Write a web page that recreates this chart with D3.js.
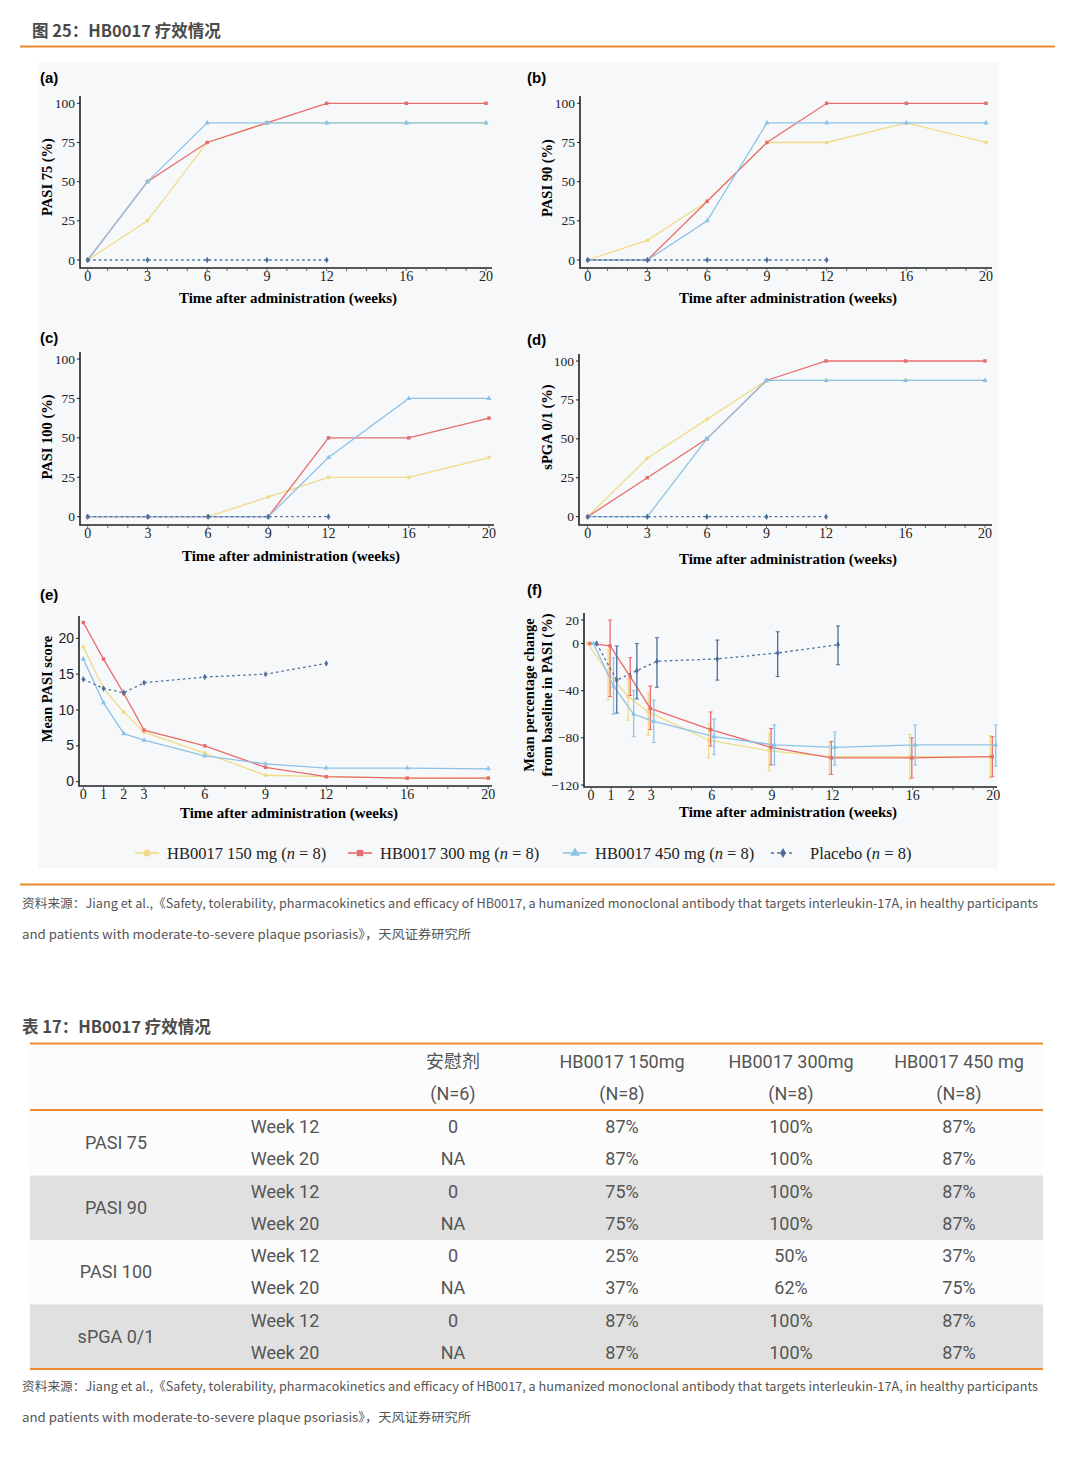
<!DOCTYPE html>
<html>
<head>
<meta charset="utf-8">
<script src="https://d3js.org/d3.v7.min.js"></script>
<style>
  body { margin: 0; background: #fff; }
  svg text { font-family: "Liberation Serif", serif; }
</style>
</head>
<body>
<div id="chart"></div>
<script>
// ---- data ----
var weeks = [0, 3, 6, 9, 12, 16, 20];
var weeksPbo = [0, 3, 6, 9, 12];
var weeksE = [0, 1, 2, 3, 6, 9, 12, 16, 20];
var weeksPboE = [0, 1, 2, 3, 6, 9, 12];

// (a) PASI 75 (%)
var pasi75_150 = [0, 25, 75, 87.5, 87.5, 87.5, 87.5];
var pasi75_300 = [0, 50, 75, 87.5, 100, 100, 100];
var pasi75_450 = [0, 50, 87.5, 87.5, 87.5, 87.5, 87.5];
var pasi75_pbo = [0, 0, 0, 0, 0];
// (b) PASI 90 (%)
var pasi90_150 = [0, 12.5, 37.5, 75, 75, 87.5, 75];
var pasi90_300 = [0, 0, 37.5, 75, 100, 100, 100];
var pasi90_450 = [0, 0, 25, 87.5, 87.5, 87.5, 87.5];
var pasi90_pbo = [0, 0, 0, 0, 0];
// (c) PASI 100 (%)
var pasi100_150 = [0, 0, 0, 12.5, 25, 25, 37.5];
var pasi100_300 = [0, 0, 0, 0, 50, 50, 62.5];
var pasi100_450 = [0, 0, 0, 0, 37.5, 75, 75];
var pasi100_pbo = [0, 0, 0, 0, 0];
// (d) sPGA 0/1 (%)
var spga_150 = [0, 37.5, 62.5, 87.5, 87.5, 87.5, 87.5];
var spga_300 = [0, 25, 50, 87.5, 100, 100, 100];
var spga_450 = [0, 0, 50, 87.5, 87.5, 87.5, 87.5];
var spga_pbo = [0, 0, 0, 0, 0];
// (e) mean PASI score
var score_150 = [18.8, 13.0, 9.7, 6.9, 4.0, 0.9, 0.7, 0.5, 0.5];
var score_300 = [22.2, 17.1, 12.3, 7.2, 5.0, 2.0, 0.7, 0.5, 0.5];
var score_450 = [17.1, 11.0, 6.7, 5.8, 3.6, 2.5, 1.9, 1.9, 1.8];
var score_pbo = [14.3, 13.0, 12.4, 13.8, 14.6, 15.0, 16.5];
// (f) mean % change from baseline, with error bar ends
var chg_150 = [0, -25, -45, -58, -82, -91, -96, -96, -96];
var chg_150_hi = [0, -5, -30, -42, -68, -76, -84, -77, -78];
var chg_150_lo = [0, -48, -65, -78, -97, -108, -111, -115, -114];
var chg_300 = [0, -2, -28, -55, -73, -88, -97, -97, -96];
var chg_300_hi = [0, 20, -12, -36, -58, -72, -83, -80, -79];
var chg_300_lo = [0, -45, -44, -73, -87, -103, -111, -114, -113];
var chg_450 = [0, -36, -60, -66, -79, -86, -88, -86, -86];
var chg_450_hi = [0, -12, -40, -48, -64, -69, -75, -69, -69];
var chg_450_lo = [0, -60, -79, -84, -94, -103, -103, -103, -104];
var chg_pbo = [0, -31, -23, -15, -13, -8, -1];
var chg_pbo_hi = [0, -2, 0, 5, 3, 10, 15];
var chg_pbo_lo = [0, -59, -47, -37, -31, -28, -18];

var xTicksAD = [0, 3, 6, 9, 12, 16, 20];
var xTicksEF = [0, 1, 2, 3, 6, 9, 12, 16, 20];
var yTicksPct = [0, 25, 50, 75, 100];
var yTicksScore = [0, 5, 10, 15, 20];
var yTicksChg = [20, 0, -40, -80, -120];

var groupNames = ["HB0017 150 mg", "HB0017 300 mg", "HB0017 450 mg", "Placebo"];
var colors = ["#f0dc86", "#e66d6c", "#8dc3e8", "#4c6d9c"];
var symbols = [d3.symbolCircle, d3.symbolSquare, d3.symbolTriangle, d3.symbolDiamond];

var tableCols = ["安慰剂", "HB0017 150mg", "HB0017 300mg", "HB0017 450 mg"];
var tableN = ["(N=6)", "(N=8)", "(N=8)", "(N=8)"];
var tableGroups = ["PASI 75", "PASI 90", "PASI 100", "sPGA 0/1"];
var tableWeeks = ["Week 12", "Week 20"];
var tableRows = [
  ["0", "87%", "100%", "87%"], ["NA", "87%", "100%", "87%"],
  ["0", "75%", "100%", "87%"], ["NA", "75%", "100%", "87%"],
  ["0", "25%", "50%", "37%"], ["NA", "37%", "62%", "75%"],
  ["0", "87%", "100%", "87%"], ["NA", "87%", "100%", "87%"]
];
var sourceLine1 = "资料来源：Jiang et al.,《Safety, tolerability, pharmacokinetics and efficacy of HB0017, a humanized monoclonal antibody that targets interleukin-17A, in healthy participants";
var sourceLine2 = "and patients with moderate-to-severe plaque psoriasis》，天风证券研究所";

var W = 1080, H = 1470;
var orange = "#f08a2e";
var cjk = '"Noto Sans CJK SC", "Noto Sans", sans-serif';

var svg = d3.select("#chart").append("svg").attr("width", W).attr("height", H);

// header
svg.append("text").attr("x", 32).attr("y", 37).text("图 25：HB0017 疗效情况")
  .style("font-family", cjk).style("font-size", "16.5px").style("font-weight", "bold").style("fill", "#4a4a4a");
svg.append("line").attr("x1", 20).attr("x2", 1055).attr("y1", 46.5).attr("y2", 46.5)
  .style("stroke", orange).style("stroke-width", 2);

// figure background
svg.append("rect").attr("x", 38).attr("y", 62).attr("width", 960).attr("height", 806).style("fill", "#f7f8fa");

function panel(p) {
  var g = svg.append("g");
  var x = d3.scaleLinear().domain([0, 20]).range(p.xr);
  var y = d3.scaleLinear().domain(p.yd).range(p.yr);

  // axis lines
  g.append("path")
    .attr("d", "M" + p.box[0] + "," + p.box[2] + "V" + p.box[3] + "H" + p.box[1])
    .style("fill", "none").style("stroke", "#222").style("stroke-width", 1.6);

  // minor x ticks
  g.selectAll(".mx").data(d3.range(0, 21)).enter().append("line")
    .attr("x1", function(d) { return x(d); }).attr("x2", function(d) { return x(d); })
    .attr("y1", p.box[3]).attr("y2", p.box[3] + 3)
    .style("stroke", "#444").style("stroke-width", 0.8);
  // major x ticks + labels
  g.selectAll(".xt").data(p.xt).enter().append("text")
    .attr("x", function(d) { return x(d); }).attr("y", p.box[3] + 13)
    .attr("text-anchor", "middle").style("font-size", "14px").style("fill", "#222")
    .text(function(d) { return d; });
  // y ticks + labels
  g.selectAll(".yl").data(p.yt).enter().append("line")
    .attr("x1", p.box[0] - 3).attr("x2", p.box[0])
    .attr("y1", function(d) { return y(d); }).attr("y2", function(d) { return y(d); })
    .style("stroke", "#222").style("stroke-width", 1);
  g.selectAll(".yt").data(p.yt).enter().append("text")
    .attr("x", p.box[0] - 5).attr("y", function(d) { return y(d) + 4.5; })
    .attr("text-anchor", "end").style("fill", "#222")
    .style("font-size", p.sansY ? "14px" : "13.5px")
    .style("font-family", p.sansY ? '"Liberation Sans", sans-serif' : null)
    .text(function(d) { return d < 0 ? "\u2212" + Math.abs(d) : d; });

  // titles
  g.append("text").attr("x", p.label[0]).attr("y", p.label[1] + 5).text(p.name)
    .style("font-family", '"Liberation Sans", sans-serif').style("font-weight", "bold").style("font-size", "15px");
  g.append("text").attr("x", p.xtitle[0]).attr("y", p.xtitle[1] + 5).attr("text-anchor", "middle")
    .style("font-weight", "bold").style("font-size", "15px").text("Time after administration (weeks)");
  p.ytitle.forEach(function(t) {
    g.append("text").attr("transform", "translate(" + (t[0] + 5) + "," + t[1] + ") rotate(-90)")
      .attr("text-anchor", "middle").style("font-weight", "bold").style("font-size", "14.5px").text(t[2]);
  });

  var line = d3.line().x(function(d) { return x(d[0] + (d[3] || 0)); }).y(function(d) { return y(d[1]); });

  p.series.forEach(function(s, i) {
    var dodge = p.dodge ? p.dodge[s.grp] : 0;
    var pts = s.xs.map(function(v, k) { return [v, s.ys[k], k, dodge]; });
    var c = colors[s.grp];
    // error bars
    if (s.hi) {
      pts.forEach(function(d, k) {
        if (s.hi[k] === s.lo[k]) return;
        var xx = x(d[0] + dodge);
        g.append("line").attr("x1", xx).attr("x2", xx).attr("y1", y(s.hi[k])).attr("y2", y(s.lo[k]))
          .style("stroke", c).style("stroke-width", 1.3);
        [s.hi[k], s.lo[k]].forEach(function(e) {
          g.append("line").attr("x1", xx - 2).attr("x2", xx + 2).attr("y1", y(e)).attr("y2", y(e))
            .style("stroke", c).style("stroke-width", 1);
        });
      });
    }
    g.append("path").attr("d", line(pts)).style("fill", "none").style("stroke", c)
      .style("stroke-width", 1.3).style("stroke-dasharray", s.grp === 3 ? "2.5,3" : null);
    g.selectAll(".m" + i).data(pts).enter().append("path")
      .attr("transform", function(d) { return "translate(" + x(d[0] + dodge) + "," + y(d[1]) + ")"; })
      .attr("d", d3.symbol().type(symbols[s.grp]).size(12))
      .style("fill", c);
  });
}

function pctSeries(a, b, c, d) {
  return [
    { grp: 0, xs: weeks, ys: a }, { grp: 1, xs: weeks, ys: b },
    { grp: 2, xs: weeks, ys: c }, { grp: 3, xs: weeksPbo, ys: d }
  ];
}

panel({ name: "(a)", label: [40, 78], box: [80, 492, 96, 268], xr: [87.7, 486], yd: [0, 100], yr: [260, 103.3],
  xt: xTicksAD, yt: yTicksPct, xtitle: [288, 298], ytitle: [[46.7, 177, "PASI 75 (%)"]],
  series: pctSeries(pasi75_150, pasi75_300, pasi75_450, pasi75_pbo) });
panel({ name: "(b)", label: [527, 78], box: [580, 992, 96, 268], xr: [587.7, 986], yd: [0, 100], yr: [260, 103.3],
  xt: xTicksAD, yt: yTicksPct, xtitle: [788, 298], ytitle: [[546.7, 178, "PASI 90 (%)"]],
  series: pctSeries(pasi90_150, pasi90_300, pasi90_450, pasi90_pbo) });
panel({ name: "(c)", label: [40, 338], box: [80, 494, 352, 525], xr: [87.7, 489], yd: [0, 100], yr: [516.7, 359],
  xt: xTicksAD, yt: yTicksPct, xtitle: [291, 556], ytitle: [[46.7, 437, "PASI 100 (%)"]],
  series: pctSeries(pasi100_150, pasi100_300, pasi100_450, pasi100_pbo) });
panel({ name: "(d)", label: [527, 340], box: [579, 992, 354, 525], xr: [587.7, 985], yd: [0, 100], yr: [516.7, 361],
  xt: xTicksAD, yt: yTicksPct, xtitle: [788, 559], ytitle: [[546.7, 427, "sPGA 0/1 (%)"]],
  series: pctSeries(spga_150, spga_300, spga_450, spga_pbo) });
panel({ name: "(e)", label: [40, 595], box: [79, 492, 616, 786], xr: [83.3, 488.3], yd: [0, 20], yr: [781.7, 638.3],
  xt: xTicksEF, yt: yTicksScore, sansY: true, xtitle: [289, 813], ytitle: [[46.7, 689, "Mean PASI score"]],
  series: [
    { grp: 0, xs: weeksE, ys: score_150 }, { grp: 1, xs: weeksE, ys: score_300 },
    { grp: 2, xs: weeksE, ys: score_450 }, { grp: 3, xs: weeksPboE, ys: score_pbo }
  ] });
panel({ name: "(f)", label: [527, 590], box: [584, 997, 613, 787], xr: [591, 993.3], yd: [20, -120], yr: [620, 785],
  xt: xTicksEF, yt: yTicksChg, xtitle: [788, 812],
  ytitle: [[529, 695, "Mean percentage change"], [546.7, 695, "from baseline in PASI (%)"]],
  dodge: [-0.15, -0.05, 0.12, 0.28],
  series: [
    { grp: 0, xs: weeksE, ys: chg_150, hi: chg_150_hi, lo: chg_150_lo },
    { grp: 1, xs: weeksE, ys: chg_300, hi: chg_300_hi, lo: chg_300_lo },
    { grp: 2, xs: weeksE, ys: chg_450, hi: chg_450_hi, lo: chg_450_lo },
    { grp: 3, xs: weeksPboE, ys: chg_pbo, hi: chg_pbo_hi, lo: chg_pbo_lo }
  ] });

// legend
var legX = [135, 348, 563, 771];
groupNames.forEach(function(n, i) {
  var lg = svg.append("g").attr("transform", "translate(" + legX[i] + ",853)");
  lg.append("line").attr("x1", 0).attr("x2", 24).style("stroke", colors[i]).style("stroke-width", 1.6)
    .style("stroke-dasharray", i === 3 ? "3,3" : null);
  lg.append("path").attr("transform", "translate(12,0)")
    .attr("d", d3.symbol().type(symbols[i]).size(i === 3 ? 30 : 40)).style("fill", colors[i]);
  var t = lg.append("text").attr("x", i === 3 ? 39 : 32).attr("y", 5.5).style("font-size", "16.5px").style("fill", "#222");
  t.append("tspan").text(n + " (");
  t.append("tspan").style("font-style", "italic").text("n");
  t.append("tspan").text(" = 8)");
});

svg.append("line").attr("x1", 20).attr("x2", 1055).attr("y1", 884.5).attr("y2", 884.5)
  .style("stroke", orange).style("stroke-width", 2);

function source(y0) {
  svg.append("text").attr("x", 22).attr("y", y0 + 5).text(sourceLine1)
    .attr("textLength", 1016).attr("lengthAdjust", "spacingAndGlyphs")
    .style("font-family", cjk).style("font-size", "12.5px").style("fill", "#555");
  svg.append("text").attr("x", 22).attr("y", y0 + 36).text(sourceLine2)
    .attr("textLength", 449).attr("lengthAdjust", "spacingAndGlyphs")
    .style("font-family", cjk).style("font-size", "12.5px").style("fill", "#555");
}
source(903);

// table
svg.append("text").attr("x", 22).attr("y", 1033).text("表 17：HB0017 疗效情况")
  .style("font-family", cjk).style("font-size", "16.5px").style("font-weight", "bold").style("fill", "#4a4a4a");

var tx = [453, 622, 791, 959];
var rowY = d3.scaleLinear().domain([0, 8]).range([1111, 1369]);
svg.append("rect").attr("x", 30).attr("y", 1044).attr("width", 1013).attr("height", 66).style("fill", "#fcfcfc");
tableGroups.forEach(function(gname, gi) {
  svg.append("rect").attr("x", 30).attr("y", rowY(gi * 2)).attr("width", 1013).attr("height", rowY(2) - rowY(0))
    .style("fill", gi % 2 ? "#e0e0e0" : "#fcfcfc");
  svg.append("text").attr("x", 116).attr("y", (rowY(gi * 2) + rowY(gi * 2 + 2)) / 2 + 6)
    .attr("text-anchor", "middle").text(gname)
    .style("font-family", "Roboto, sans-serif").style("font-size", "18px").style("fill", "#555");
});
tableRows.forEach(function(r, ri) {
  var cy = (rowY(ri) + rowY(ri + 1)) / 2 + 6;
  svg.append("text").attr("x", 285).attr("y", cy).attr("text-anchor", "middle").text(tableWeeks[ri % 2])
    .style("font-family", "Roboto, sans-serif").style("font-size", "18px").style("fill", "#555");
  r.forEach(function(v, ci) {
    svg.append("text").attr("x", tx[ci]).attr("y", cy).attr("text-anchor", "middle").text(v)
      .style("font-family", "Roboto, sans-serif").style("font-size", "18px").style("fill", "#555");
  });
});
tableCols.forEach(function(c, ci) {
  svg.append("text").attr("x", tx[ci]).attr("y", 1068).attr("text-anchor", "middle").text(c)
    .style("font-family", ci === 0 ? cjk : "Roboto, sans-serif").style("font-size", "18px").style("fill", "#555");
  svg.append("text").attr("x", tx[ci]).attr("y", 1100).attr("text-anchor", "middle").text(tableN[ci])
    .style("font-family", "Roboto, sans-serif").style("font-size", "18px").style("fill", "#555");
});
[1043.5, 1110, 1369].forEach(function(yy) {
  svg.append("line").attr("x1", 30).attr("x2", 1043).attr("y1", yy).attr("y2", yy)
    .style("stroke", orange).style("stroke-width", 2);
});
source(1386);
</script>
</body>
</html>
